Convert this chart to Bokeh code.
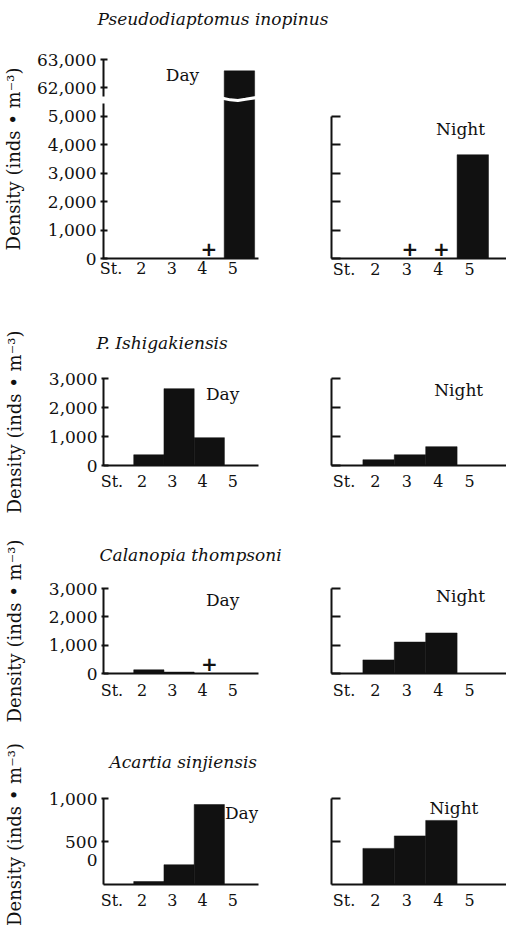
from bokeh.plotting import figure
from bokeh.layouts import column, row
from bokeh.models import Range1d, FixedTicker, NumeralTickFormatter, Label, Title
from bokeh.embed import file_html
from bokeh.resources import INLINE
from bokeh.core.properties import value

# ---------------- data ----------------
stations = [1, 2, 3, 4, 5]
station_labels = ["St.", "2", "3", "4", "5"]

species = ["Pseudodiaptomus inopinus", "P. Ishigakiensis",
           "Calanopia thompsoni", "Acartia sinjiensis"]

pseudo_day = [0, 0, 0, 0, 62600]
pseudo_night = [0, 0, 0, 0, 3650]
pseudo_day_plus = [4]
pseudo_night_plus = [3, 4]

ishi_day = [0, 370, 2650, 960, 0]
ishi_night = [0, 200, 370, 650, 0]

calan_day = [0, 130, 50, 0, 0]
calan_night = [0, 480, 1110, 1430, 0]
calan_day_plus = [4]

acartia_day = [0, 35, 230, 930, 0]
acartia_night = [0, 420, 565, 745, 0]

pseudo_ticks = [0, 1000, 2000, 3000, 4000, 5000, 62000, 63000]
ticks_5000 = [0, 1000, 2000, 3000, 4000, 5000]
ticks_3000 = [0, 1000, 2000, 3000]
acartia_ticks = [500, 1000]
acartia_zero_label_value = 290   # the "0" label is printed off the baseline in the original

y_label = "Density (inds \u2022 m\u207b\u00b3)"

# broken axis: values above the break are shifted down (62,000 drawn at 6,000)
BREAK_SHIFT = 56000


def disp(v):
    return v - BREAK_SHIFT if v > 5500 else v


FONT = "DejaVu Serif"
INK = "#111111"

LEFT_W, RIGHT_W = 290, 216
LEFT_MB_L, LEFT_MB_R = 97, 32
RIGHT_MB_L = 41
PX_PER_ST = 31.4
LEFT_XR = (0.5, 0.5 + 161 / PX_PER_ST)
RIGHT_XR = (0.5, 0.5 + 175 / PX_PER_ST)


def make_fig(width, height, mb_l, mb_r, mb_t, mb_b, xr, yr):
    p = figure(width=width, height=height, x_range=Range1d(*xr), y_range=Range1d(*yr),
               output_backend="svg", toolbar_location=None,
               min_border_left=mb_l, min_border_right=mb_r,
               min_border_top=mb_t, min_border_bottom=mb_b)
    p.grid.visible = False
    p.outline_line_color = None
    p.background_fill_color = "white"
    p.border_fill_color = "white"
    return p


def style_x(p, off, standoff):
    ax = p.xaxis[0]
    ax.ticker = FixedTicker(ticks=[round(s + off, 3) for s in stations])
    ax.major_label_overrides = {round(s + off, 3): lab for s, lab in zip(stations, station_labels)}
    ax.major_tick_in = 0
    ax.major_tick_out = 0
    ax.minor_tick_in = 0
    ax.minor_tick_out = 0
    ax.axis_line_width = 2
    ax.axis_line_color = INK
    ax.major_label_text_font = FONT
    ax.major_label_text_font_size = "16px"
    ax.major_label_text_color = INK
    ax.major_label_standoff = standoff


def style_y(p, ticks, bounds, labels=True, overrides=None, tick_in=5, tick_out=2, minor=None):
    ay = p.yaxis[0]
    if minor is not None:
        ay.ticker = FixedTicker(ticks=ticks, minor_ticks=minor)
    else:
        ay.ticker = FixedTicker(ticks=ticks)
    ay.formatter = NumeralTickFormatter(format="0,0")
    if overrides:
        ay.major_label_overrides = overrides
    if not labels:
        ay.major_label_overrides = {t: "" for t in ticks}
    ay.bounds = bounds
    ay.major_tick_in = tick_in
    ay.major_tick_out = tick_out
    ay.minor_tick_in = 0
    ay.minor_tick_out = 0
    ay.major_tick_line_width = 2
    ay.major_tick_line_color = INK
    ay.axis_line_width = 2
    ay.axis_line_color = INK
    ay.major_label_text_font = FONT
    ay.major_label_text_font_size = "17px"
    ay.major_label_text_color = INK
    ay.major_label_standoff = 4


def add_ylabel(p, standoff):
    ay = p.yaxis[0]
    ay.axis_label = y_label
    ay.axis_label_text_font = FONT
    ay.axis_label_text_font_size = "18px"
    ay.axis_label_text_font_style = "normal"
    ay.axis_label_text_color = INK
    ay.axis_label_standoff = standoff


def bars(p, vals, transform=None):
    tops = [transform(v) if transform else v for v in vals]
    p.vbar(x=stations, top=tops, bottom=0, width=1.0, fill_color=INK, line_color=INK, line_width=0.5)


def pluses(p, xs):
    p.text(x=xs, y=[0] * len(xs), text=["+"] * len(xs), text_font=value("DejaVu Sans"),
           text_font_style="bold", text_font_size="20px", text_color=INK,
           text_align="center", text_baseline="middle", y_offset=-10)


def tag(p, text, x, y):
    p.add_layout(Label(x=x, y=y, text=text, text_font=FONT, text_font_size="17px",
                       text_color=INK, text_align="center", text_baseline="middle"))


def title(p, text, offset, standoff):
    p.add_layout(Title(text=text, align="left", offset=offset, standoff=standoff,
                       text_font=FONT, text_font_size="17px", text_font_style="italic",
                       text_color=INK), "above")


# ---------------- row 0: first species title ----------------
tp = figure(width=506, height=30, output_backend="svg", toolbar_location=None,
            x_axis_location=None, y_axis_location=None,
            min_border_left=LEFT_MB_L, min_border_right=0, min_border_top=28, min_border_bottom=0)
tp.grid.visible = False
tp.outline_line_color = None
title(tp, species[0], 0, 0)

# ---------------- row 1: Pseudodiaptomus inopinus ----------------
H1, T1, B1 = 270, 29, 42
l1 = make_fig(LEFT_W, H1, LEFT_MB_L, LEFT_MB_R, T1, B1, LEFT_XR, (0, 7000))
bars(l1, pseudo_day, disp)
# white break across the tall bar
l1.line(x=[4.45, 4.7, 4.95, 5.2, 5.55], y=[5640, 5580, 5560, 5600, 5660],
        line_color="white", line_width=3)
pluses(l1, pseudo_day_plus)
style_x(l1, -0.22, 0)
style_y(l1, [disp(t) for t in pseudo_ticks], (0, 7000),
        overrides={disp(t): f"{t:,}" for t in pseudo_ticks})
l1.yaxis[0].axis_line_color = None
l1.segment(x0=[LEFT_XR[0]] * 2, y0=[0, 5700], x1=[LEFT_XR[0]] * 2, y1=[5450, 7000],
           line_color=INK, line_width=4)
add_ylabel(l1, 10)
tag(l1, "Day", 3.13, 6470)

r1 = make_fig(RIGHT_W, H1, RIGHT_MB_L, 0, T1, B1, RIGHT_XR, (0, 7000))
bars(r1, pseudo_night)
pluses(r1, pseudo_night_plus)
style_x(r1, -0.1, 1)
style_y(r1, ticks_5000, (0, 5000), labels=False, tick_in=9, tick_out=0)
tag(r1, "Night", 4.61, 4570)

# ---------------- row 2: P. Ishigakiensis ----------------
H2, T2, B2 = 218, 78, 53
l2 = make_fig(LEFT_W, H2, LEFT_MB_L, LEFT_MB_R, T2, B2, LEFT_XR, (0, 3000))
bars(l2, ishi_day)
style_x(l2, -0.22, 6)
style_y(l2, ticks_3000, (0, 3000))
add_ylabel(l2, 21)
title(l2, species[1], -7, 52)
tag(l2, "Day", 4.44, 2480)

r2 = make_fig(RIGHT_W, H2, RIGHT_MB_L, 0, T2, B2, RIGHT_XR, (0, 3000))
bars(r2, ishi_night)
style_x(r2, -0.1, 6)
style_y(r2, ticks_3000, (0, 3000), labels=False, tick_in=9, tick_out=0)
tag(r2, "Night", 4.55, 2590)

# ---------------- row 3: Calanopia thompsoni ----------------
H3, T3, B3 = 217, 70, 62
l3 = make_fig(LEFT_W, H3, LEFT_MB_L, LEFT_MB_R, T3, B3, LEFT_XR, (0, 3000))
bars(l3, calan_day)
pluses(l3, calan_day_plus)
style_x(l3, -0.22, 7)
style_y(l3, ticks_3000, (0, 3000))
add_ylabel(l3, 21)
title(l3, species[2], -4, 47)
tag(l3, "Day", 4.44, 2610)

r3 = make_fig(RIGHT_W, H3, RIGHT_MB_L, 0, T3, B3, RIGHT_XR, (0, 3000))
bars(r3, calan_night)
style_x(r3, -0.1, 7)
style_y(r3, ticks_3000, (0, 3000), labels=False, tick_in=9, tick_out=0)
tag(r3, "Night", 4.61, 2720)

# ---------------- row 4: Acartia sinjiensis ----------------
# frame reaches a little above the 1,000 tick so the long axis title fits the page
H4, T4, B4 = 191, 49, 42
Y4 = (0, 1000 * (884 - 784) / 86)
l4 = make_fig(LEFT_W, H4, LEFT_MB_L, LEFT_MB_R, T4, B4, LEFT_XR, Y4)
bars(l4, acartia_day)
style_x(l4, -0.22, 6)
style_y(l4, [acartia_zero_label_value] + acartia_ticks, (0, 1000),
        overrides={acartia_zero_label_value: "0"}, minor=acartia_ticks)
ay4 = l4.yaxis[0]
ay4.major_tick_line_color = None
ay4.minor_tick_in = 5
ay4.minor_tick_out = 2
ay4.minor_tick_line_width = 2
ay4.minor_tick_line_color = INK
add_ylabel(l4, 21)
title(l4, species[3], 6, 26)
tag(l4, "Day", 5.07, 826)

r4 = make_fig(RIGHT_W, H4, RIGHT_MB_L, 0, T4, B4, RIGHT_XR, Y4)
bars(r4, acartia_night)
style_x(r4, -0.1, 6)
style_y(r4, acartia_ticks, (0, 1000), labels=False, tick_in=9, tick_out=0)
tag(r4, "Night", 4.40, 895)

layout = column(tp, row(l1, r1), row(l2, r2), row(l3, r3), row(l4, r4))

open("out.html", "w").write(file_html(layout, INLINE))
